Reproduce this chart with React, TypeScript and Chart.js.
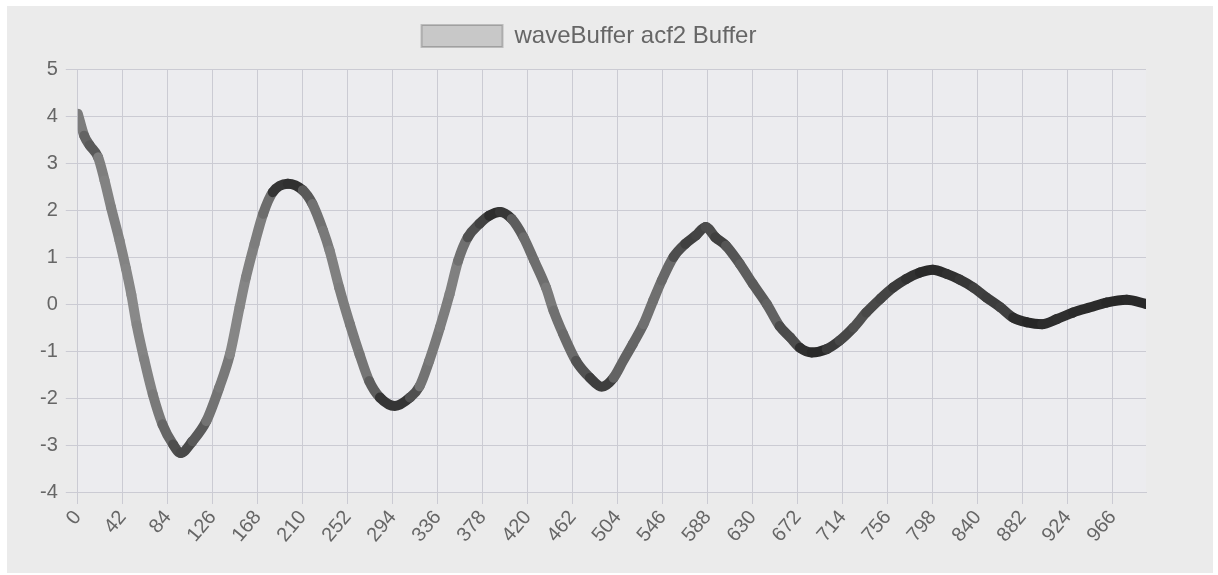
import { useEffect, useRef } from 'react';
import { Chart, registerables } from 'chart.js';

Chart.register(...registerables);

const seriesLabel = 'waveBuffer acf2 Buffer';

const sampleIndex = [
  0, 6, 11, 19, 25, 31, 39, 45, 50, 55, 62, 70, 79, 89, 96, 107, 120, 132, 142, 151,
  157, 165, 173, 182, 196, 210, 219, 229, 235, 244, 254, 263, 272, 282, 296, 310, 319, 328, 338, 347,
  355, 364, 375, 384, 394, 405, 416, 426, 437, 444, 453, 465, 478, 489, 500, 509, 518, 528, 537, 545,
  556, 567, 577, 586, 595, 605, 618, 630, 643, 655, 665, 674, 685, 699, 711, 724, 736, 749, 761, 773,
  786, 798, 811, 823, 836, 848, 861, 873, 886, 900, 914, 929, 945, 960, 979, 997,
];

const sampleValue = [
  4.05, 3.58, 3.38, 3.12, 2.63, 2.06, 1.35, 0.75, 0.2, -0.45, -1.18, -1.92, -2.56, -2.99, -3.17, -2.92, -2.49, -1.78, -1.07, -0.07,
  0.57, 1.28, 1.92, 2.38, 2.56, 2.42, 2.13, 1.56, 1.14, 0.35, -0.43, -1.07, -1.64, -1.99, -2.17, -1.99, -1.75, -1.21, -0.5, 0.21,
  0.92, 1.42, 1.71, 1.88, 1.96, 1.81, 1.42, 0.92, 0.35, -0.14, -0.64, -1.21, -1.57, -1.76, -1.57, -1.21, -0.85, -0.43, 0.07, 0.5,
  1.0, 1.28, 1.46, 1.64, 1.42, 1.24, 0.85, 0.43, 0.0, -0.47, -0.71, -0.93, -1.03, -0.96, -0.78, -0.5, -0.18, 0.11, 0.35, 0.53,
  0.67, 0.73, 0.64, 0.52, 0.35, 0.14, -0.07, -0.29, -0.39, -0.43, -0.32, -0.18, -0.07, 0.03, 0.09, 0.0,
];

const xMin = 0;
const xMax = 997;
const xTickStep = 42;
const yMin = -4;
const yMax = 5;
const yTickStep = 1;

export default function App() {
  const ref = useRef<HTMLCanvasElement | null>(null);

  useEffect(() => {
    if (!ref.current) return;
    Chart.defaults.font.family = '"Liberation Sans", Arial, sans-serif';
    const areaBg = {
      id: 'areaBg',
      beforeDraw(chart: any) {
        const { ctx, chartArea: a } = chart;
        ctx.save();
        ctx.fillStyle = '#ececef';
        ctx.fillRect(a.left, a.top, a.right - a.left, a.bottom - a.top);
        ctx.restore();
      },
    };
    const legendGap = {
      id: 'legendGap',
      beforeInit(chart: any) {
        const legend = chart.legend;
        if (!legend) return;
        const origFit = legend.fit;
        legend.fit = function fit() {
          origFit.call(this);
          this.height += 11;
        };
      },
    };
    const gridColor = '#cbcbd3';
    const chart = new Chart(ref.current, {
      type: 'line',
      data: {
        datasets: [
          {
            label: seriesLabel,
            data: sampleIndex.map((x, i) => ({ x, y: sampleValue[i] })),
            borderWidth: 10,
            pointRadius: 0,
            pointHoverRadius: 0,
            cubicInterpolationMode: 'monotone',
            borderCapStyle: 'round',
            borderJoinStyle: 'round',
            backgroundColor: 'rgba(0,0,0,0.15)',
            borderColor: '#333',
            fill: false,
            segment: {
              borderColor: (ctx: any) => {
                const dx = Math.abs(ctx.p1.x - ctx.p0.x) || 1;
                const dy = Math.abs(ctx.p1.y - ctx.p0.y);
                const s = dy / dx;
                const g = Math.round(38 + 120 * (1 - 1 / Math.sqrt(1 + s * s)));
                return `rgb(${g},${g},${g})`;
              },
            },
          } as any,
        ],
      },
      options: {
        animation: false,
        responsive: true,
        maintainAspectRatio: false,
        layout: { padding: { top: 8, left: 25, right: 67, bottom: 24 } },
        plugins: {
          tooltip: { enabled: false },
          legend: {
            display: true,
            position: 'top',
            labels: {
              boxWidth: 81,
              boxHeight: 22,
              padding: 10,
              color: '#666',
              font: { size: 24 },
              generateLabels: (c: any) =>
                c.data.datasets.map((ds: any, i: number) => ({
                  text: ds.label,
                  fillStyle: 'rgba(0,0,0,0.15)',
                  strokeStyle: 'rgba(0,0,0,0.2)',
                  lineWidth: 2,
                  hidden: false,
                  datasetIndex: i,
                  fontColor: '#666',
                })),
            },
          },
        },
        scales: {
          x: {
            type: 'linear',
            min: xMin,
            max: xMax,
            grid: { color: gridColor, lineWidth: 1, tickLength: 12 },
            border: { color: gridColor },
            ticks: {
              stepSize: xTickStep,
              includeBounds: false,
              autoSkip: false,
              minRotation: 50,
              maxRotation: 50,
              padding: 2,
              color: '#666',
              font: { size: 20 },
            },
          },
          y: {
            type: 'linear',
            min: yMin,
            max: yMax,
            grid: { color: gridColor, lineWidth: 1, tickLength: 12 },
            border: { color: gridColor },
            ticks: { stepSize: yTickStep, padding: 8, color: '#666', font: { size: 20 } },
          },
        },
      },
      plugins: [areaBg, legendGap],
    });
    return () => chart.destroy();
  }, []);

  return (
    <div
      style={{
        position: 'absolute',
        left: 7,
        top: 6,
        width: 1206,
        height: 567,
        background: '#ebebeb',
      }}
    >
      <canvas ref={ref} />
    </div>
  );
}
